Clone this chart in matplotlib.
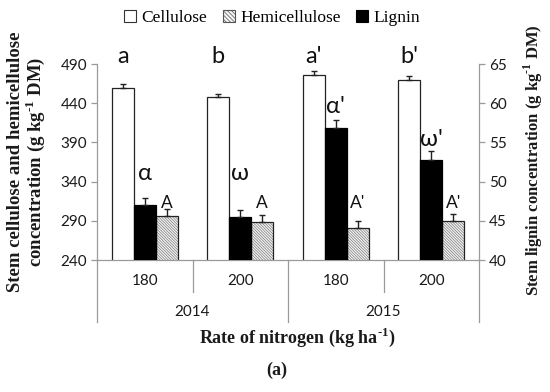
import matplotlib
matplotlib.use("Agg")
import matplotlib.pyplot as plt
import matplotlib.transforms as mtransforms
from matplotlib.patches import Patch
import numpy as np

# ---- data ----
years = ["2014", "2015"]
rates = ["180", "200", "180", "200"]
cellulose = [459, 448, 476, 470]
cellulose_err = [5, 4, 5, 5]
hemicellulose = [296, 289, 281, 290]
hemicellulose_err = [9, 9, 9, 9]
lignin = [47.0, 45.5, 56.8, 52.7]
lignin_err = [0.85, 0.9, 1.1, 1.15]
cell_letters = ["a", "b", "a'", "b'"]
lig_letters = ["α", "ω", "α'", "ω'"]
hemi_letters = ["A", "A", "A'", "A'"]

plt.rcParams['mathtext.fontset'] = 'custom'
plt.rcParams['mathtext.rm'] = 'Liberation Serif'
plt.rcParams['mathtext.bf'] = 'Liberation Serif:bold'
plt.rcParams['hatch.linewidth'] = 0.5

SANS = 'Lato'
SERIF = 'Liberation Serif'
AXC = '#9a9a9a'
SUP = r'$^{\mathbf{\text{-}1}}$'

fig = plt.figure(figsize=(5.5, 3.92), dpi=100)
ax = fig.add_axes([97/550, 1-260/392, (479-97)/550, 196/392])
ax2 = ax.twinx()

x = np.arange(len(rates))
w = 0.23

# cellulose
ax.bar(x - w, cellulose, w, color='white', edgecolor='#222222', linewidth=0.9, zorder=2)
ax.errorbar(x - w, cellulose, yerr=[np.zeros(4), cellulose_err], fmt='none',
            ecolor='#222222', elinewidth=1, capsize=2.2, capthick=1, zorder=3)
# hemicellulose
ax.bar(x + w, hemicellulose, w, color='#f4f4f4', edgecolor='#7a7a7a', hatch='\\' * 12,
       linewidth=0, zorder=2)
ax.bar(x + w, hemicellulose, w, fill=False, edgecolor='#222222', linewidth=0.9, zorder=2.5)
ax.errorbar(x + w, hemicellulose, yerr=[np.zeros(4), hemicellulose_err], fmt='none',
            ecolor='#222222', elinewidth=1, capsize=2.2, capthick=1, zorder=3)
# lignin on right axis
ax2.bar(x, lignin, w, color='black', edgecolor='black', linewidth=0.9, zorder=2)
ax2.errorbar(x, lignin, yerr=[np.zeros(4), lignin_err], fmt='none',
             ecolor='#222222', elinewidth=1, capsize=2.2, capthick=1, zorder=3)

ax.set_xlim(-0.5, 3.5)
ax.set_ylim(240, 490)
ax2.set_ylim(40, 65)
ax.set_yticks(np.arange(240, 491, 50))
ax2.set_yticks(np.arange(40, 66, 5))
ax.set_xticks([])
ax2.set_xticks([])

for a in (ax, ax2):
    a.spines['top'].set_visible(False)
    for s in ('left', 'right', 'bottom'):
        a.spines[s].set_color(AXC)
        a.spines[s].set_linewidth(0.9)
    a.tick_params(axis='y', colors=AXC, length=4, width=0.9, labelcolor='#1a1a1a',
                  labelsize=11, pad=3)
    for lab in a.get_yticklabels():
        lab.set_fontfamily(SANS)
ax.spines['right'].set_visible(False)
ax2.spines['left'].set_visible(False)
ax2.spines['bottom'].set_visible(False)

# two-level category axis
tr = mtransforms.blended_transform_factory(ax.transData, ax.transAxes)
for xb in [0.5, 2.5]:
    ax.plot([xb, xb], [0, -0.163], transform=tr, color=AXC, lw=0.9, clip_on=False)
for xb in [-0.5, 1.5, 3.5]:
    ax.plot([xb, xb], [0, -0.316], transform=tr, color=AXC, lw=0.9, clip_on=False)
for xi, r in zip(x, rates):
    ax.text(xi, -0.107, r, transform=tr, ha='center', va='center',
            fontsize=11, family=SANS, color='#1a1a1a')
for yi, yr in enumerate(years):
    ax.text(2*yi + 0.5, -0.265, yr, transform=tr, ha='center', va='center',
            fontsize=11, family=SANS, color='#1a1a1a')

# significance letters
for i in range(4):
    ax.text(x[i] - w, 491, cell_letters[i], ha='center', va='baseline',
            fontsize=17, family=SANS, color='#111111', zorder=5)
    ax.text(x[i] + w, 306, hemi_letters[i], ha='center', va='baseline',
            fontsize=12.5, family=SANS, color='#111111', zorder=5)
greek_pad = [2.35, 3.8, 0.8, 0.75]
for i in range(4):
    ax2.text(x[i], lignin[i] + lignin_err[i] + greek_pad[i], lig_letters[i],
             ha='center', va='baseline', fontsize=17, family=SANS,
             color='#111111', zorder=5)

# axis labels
fig.text(16/550, 1-162/392, 'Stem cellulose and hemicellulose', rotation=90,
         ha='center', va='center', fontsize=13.5, family=SERIF, weight='bold',
         color='#1a1a1a')
fig.text(35/550, 1-162/392, 'concentration (g kg' + SUP + ' DM)', rotation=90,
         ha='center', va='center', fontsize=13.5, family=SERIF, weight='bold',
         color='#1a1a1a')
fig.text(533/550, 1-160/392, 'Stem lignin concentration (g kg' + SUP + ' DM)',
         rotation=90, ha='center', va='center', fontsize=12, family=SERIF,
         weight='bold', color='#1a1a1a')
fig.text(297/550, 1-337/392, 'Rate of nitrogen (kg ha' + SUP + ')',
         ha='center', va='center', fontsize=13, family=SERIF, weight='bold',
         color='#1a1a1a')
fig.text(277/550, 1-370/392, '(a)', ha='center', va='center', fontsize=13,
         family=SERIF, weight='bold', color='#1a1a1a')

# legend
handles = [Patch(facecolor='white', edgecolor='#333333', linewidth=0.8),
           Patch(facecolor='#f4f4f4', edgecolor='#555555', hatch='\\' * 8, linewidth=0.8),
           Patch(facecolor='black', edgecolor='black', linewidth=0.8)]
leg = fig.legend(handles, ['Cellulose', 'Hemicellulose', 'Lignin'],
                 loc='center', bbox_to_anchor=(272/550, 1-18/392), ncol=3,
                 frameon=False, prop={'family': SERIF, 'size': 12.5},
                 handlelength=0.7, handleheight=0.7, handletextpad=0.3,
                 columnspacing=0.9, borderpad=0)

fig.savefig('out.png', dpi=100)
